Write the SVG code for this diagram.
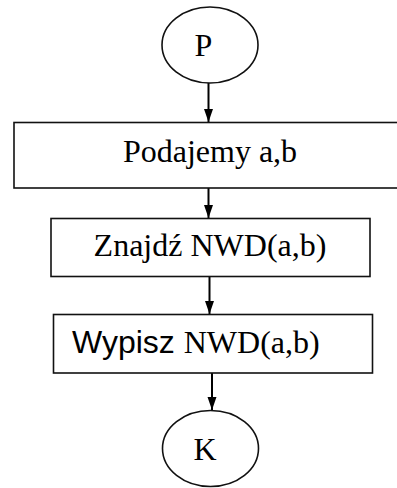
<svg xmlns="http://www.w3.org/2000/svg" width="397" height="488" viewBox="0 0 397 488">
  <style>
    .shape { fill: #fff; stroke: #111; stroke-width: 1.6; }
    .serif { font-family: "Liberation Serif", "Times New Roman", serif; font-size: 32px; fill: #000; }
    .sans { font-family: "Liberation Sans", Arial, sans-serif; font-size: 32px; fill: #000; }
    .flow { stroke: #000; stroke-width: 2; fill: none; marker-end: url(#head); }
  </style>
  <defs>
    <marker id="head" markerUnits="userSpaceOnUse" markerWidth="14" markerHeight="10" refX="13" refY="4.5" orient="auto">
      <path d="M0,0 L13,4.5 L0,9 z" fill="#000"/>
    </marker>
  </defs>
  <rect width="397" height="488" fill="#fff"/>

  <g id="connectors">
    <line class="flow" x1="208.5" y1="83" x2="208.5" y2="122"/>
    <line class="flow" x1="208.5" y1="188" x2="208.5" y2="218"/>
    <line class="flow" x1="209.5" y1="277" x2="209.5" y2="314"/>
    <line class="flow" x1="212" y1="373" x2="212" y2="410"/>
  </g>

  <g id="start">
    <ellipse class="shape" cx="210" cy="45" rx="48" ry="38"/>
    <text class="serif" x="194.5" y="56">P</text>
  </g>

  <g id="input">
    <rect class="shape" x="14" y="122.5" width="400" height="65.5"/>
    <text class="serif" x="210" y="162" text-anchor="middle">Podajemy a,b</text>
  </g>

  <g id="compute">
    <rect class="shape" x="51" y="218.5" width="319" height="58"/>
    <text class="serif" x="210" y="256" text-anchor="middle">Znajdź NWD(a,b)</text>
  </g>

  <g id="output">
    <rect class="shape" x="53.5" y="314.5" width="319" height="58.5"/>
    <text x="72" y="353"><tspan class="sans">Wypisz </tspan><tspan class="serif">NWD(a,b)</tspan></text>
  </g>

  <g id="end">
    <ellipse class="shape" cx="210.5" cy="448.5" rx="48" ry="38"/>
    <text class="serif" x="193.5" y="460">K</text>
  </g>
</svg>
